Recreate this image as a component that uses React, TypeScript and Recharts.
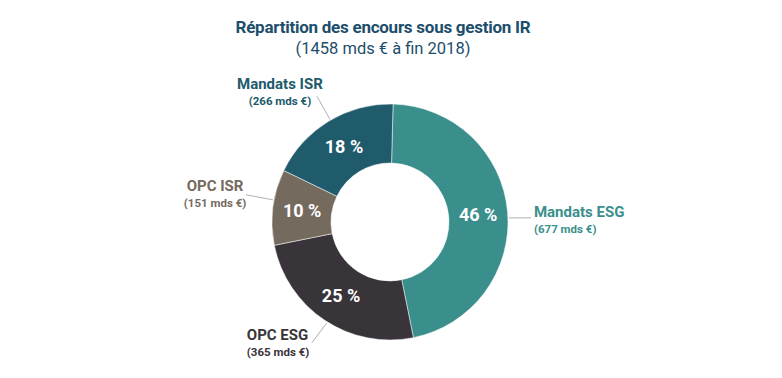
import React from 'react';
import { PieChart, Pie, Cell } from 'recharts';

const categories = ['Mandats ESG', 'OPC ESG', 'OPC ISR', 'Mandats ISR'];
const amounts = [677, 365, 151, 266];
const amountLabels = ['(677 mds €)', '(365 mds €)', '(151 mds €)', '(266 mds €)'];
const percentLabels = ['46 %', '25 %', '10 %', '18 %'];
const colors = ['#3a8f8c', '#38343a', '#756a5e', '#205b6b'];

const TITLE = 'Répartition des encours sous gestion IR';
const SUBTITLE = '(1458 mds € à fin 2018)';

const FONT = 'Roboto, "DejaVu Sans Condensed", sans-serif';
const RAD = Math.PI / 180;

const data = categories.map((name, i) => ({
  name,
  value: amounts[i],
  amount: amountLabels[i],
  pct: percentLabels[i],
}));

// leader line placement per slice: angle tweak, leader vector, text anchor/offset
const labelLayout = [
  { tweak: -3, ldx: 22, ldy: 0, anchor: 'start', tdx: 3, tdy: -1 },
  { tweak: 1.5, ldx: -15, ldy: 20, anchor: 'start', tdx: -65, tdy: -3 },
  { tweak: -3.5, ldx: -27, ldy: -5, anchor: 'middle', tdx: -31, tdy: -4 },
  { tweak: -1, ldx: -13, ldy: -23, anchor: 'middle', tdx: -37, tdy: -7 },
];

const polar = (cx: number, cy: number, r: number, angle: number) => ({
  x: cx + r * Math.cos(-angle * RAD),
  y: cy + r * Math.sin(-angle * RAD),
});

const renderLabel = (props: any) => {
  const { cx, cy, midAngle, innerRadius, outerRadius, index } = props;
  const d = data[index];
  const lay = labelLayout[index];
  const mid = polar(cx, cy, (innerRadius + outerRadius) / 2, midAngle);
  const start = polar(cx, cy, outerRadius + 1, midAngle + lay.tweak);
  const end = { x: start.x + lay.ldx, y: start.y + lay.ldy };
  const tx = end.x + lay.tdx;
  const ty = end.y + lay.tdy;
  return (
    <g>
      <text
        x={mid.x}
        y={mid.y}
        fill="#ffffff"
        textAnchor="middle"
        dominantBaseline="central"
        fontFamily={FONT}
        fontWeight={700}
        fontSize={18}
      >
        {d.pct}
      </text>
      <line x1={start.x} y1={start.y} x2={end.x} y2={end.y} stroke="#9a9a9a" strokeWidth={0.8} />
      <text
        x={tx}
        y={ty}
        fill={colors[index]}
        textAnchor={lay.anchor}
        fontFamily={FONT}
        fontWeight={700}
        fontSize={15}
      >
        {d.name}
      </text>
      <text
        x={tx}
        y={ty + 16}
        fill={colors[index]}
        textAnchor={lay.anchor}
        fontFamily={FONT}
        fontWeight={700}
        fontSize={11.5}
      >
        {d.amount}
      </text>
    </g>
  );
};

export default function App() {
  return (
    <div style={{ position: 'absolute', left: 0, top: 0, width: 782, height: 378, background: '#fff' }}>
      <div
        style={{
          position: 'absolute',
          left: 0,
          top: 17,
          width: 766,
          textAlign: 'center',
          fontFamily: FONT,
          color: '#1d4e6b',
          lineHeight: '21px',
        }}
      >
        <div style={{ fontWeight: 700, fontSize: 17, letterSpacing: -0.25 }}>{TITLE}</div>
        <div style={{ fontWeight: 400, fontSize: 16.5, letterSpacing: 0 }}>{SUBTITLE}</div>
      </div>
      <PieChart width={782} height={378} margin={{ top: 0, right: 0, bottom: 0, left: 0 }}>
        <Pie
          data={data}
          dataKey="value"
          nameKey="name"
          cx={390}
          cy={222}
          innerRadius={59}
          outerRadius={118}
          startAngle={88.5}
          endAngle={-271.5}
          stroke="#ffffff"
          strokeWidth={0.5}
          label={renderLabel}
          labelLine={false}
          isAnimationActive={false}
        >
          {data.map((d, i) => (
            <Cell key={d.name} fill={colors[i]} />
          ))}
        </Pie>
      </PieChart>
    </div>
  );
}
